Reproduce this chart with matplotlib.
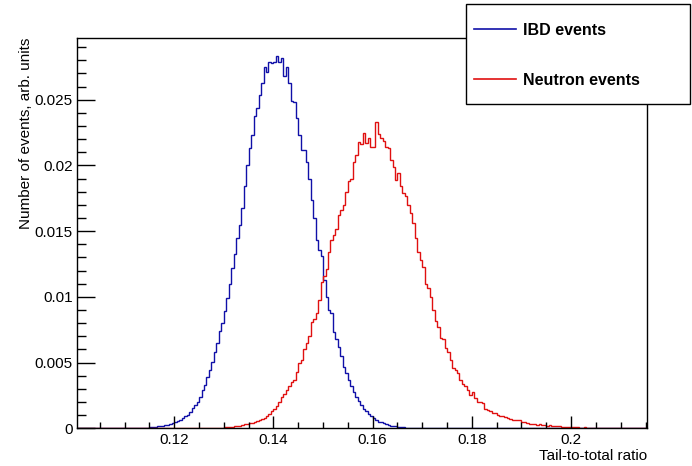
import numpy as np
import matplotlib
matplotlib.use("Agg")
import matplotlib.pyplot as plt
from matplotlib.patches import Rectangle

plt.rcParams['font.family'] = ['Liberation Sans', 'DejaVu Sans']

# histogram binning (tail-to-total ratio)
x_lo = 0.1
bin_w = 0.0005
n_bins = 231

# IBD events, first bin starts at 0.113
ibd_start = 0.113
ibd_vals = [0.00003, 0.00005, 0.00004, 0.00006, 0.00008, 0.00009, 0.00012, 0.00014, 0.00016, 0.00020,
            0.00024, 0.00027, 0.00031, 0.00038, 0.00046, 0.00054, 0.00063, 0.00075, 0.00090, 0.00102,
            0.00125, 0.00152, 0.00175, 0.00202, 0.00240, 0.00291, 0.00330, 0.00393, 0.00440, 0.00507,
            0.0058, 0.0065, 0.0074, 0.0080, 0.0089, 0.0099, 0.0110, 0.0122, 0.0133, 0.0145,
            0.0155, 0.0168, 0.0184, 0.0200, 0.0213, 0.0223, 0.0238, 0.0244, 0.0254, 0.0263,
            0.0275, 0.0271, 0.0279, 0.0278, 0.0279, 0.0283, 0.0279, 0.0282, 0.0268, 0.0275,
            0.0263, 0.0249, 0.0248, 0.0236, 0.0223, 0.0212, 0.0212, 0.0203, 0.0190, 0.0174,
            0.0160, 0.0143, 0.0136, 0.0131, 0.0113, 0.0100, 0.0090, 0.0088, 0.0073, 0.0068,
            0.0062, 0.0055, 0.0047, 0.0042, 0.0037, 0.0032, 0.0028, 0.0024, 0.0021, 0.0018,
            0.0015, 0.0013, 0.0011, 0.0009, 0.0008, 0.0006, 0.0005, 0.00045, 0.0004, 0.0003,
            0.00025, 0.0002, 0.00017, 0.00014, 0.0001, 0.0001, 0.00008, 0.00006, 0.00005, 0.00004,
            0.00004, 0.00003, 0.00002, 0.00002]

# Neutron events, first bin starts at 0.1245
neutron_start = 0.1245
neutron_vals = [0.00002, 0.00001, 0.00002, 0.00003, 0.00002, 0.00003, 0.00004, 0.00003, 0.00005, 0.00005,
                0.00006, 0.00008, 0.00009, 0.0001, 0.00012, 0.00015, 0.00018, 0.0002, 0.00025, 0.0003,
                0.00033, 0.00038, 0.00042, 0.00045, 0.00058, 0.00065, 0.00072, 0.00078, 0.0009, 0.0011,
                0.0013, 0.0015, 0.0017, 0.0020, 0.0024, 0.0026, 0.0029, 0.0032, 0.0035, 0.0037,
                0.0043, 0.0050, 0.0052, 0.0060, 0.0065, 0.0070, 0.0081, 0.0083, 0.0088, 0.0098,
                0.0111, 0.0116, 0.0121, 0.0134, 0.0143, 0.0147, 0.0152, 0.0162, 0.0166, 0.0170,
                0.0180, 0.0188, 0.0190, 0.0203, 0.0208, 0.0218, 0.0216, 0.0225, 0.0217, 0.0221,
                0.0214, 0.0214, 0.0233, 0.0224, 0.0221, 0.0219, 0.0214, 0.0213, 0.0204, 0.0199,
                0.0189, 0.0194, 0.0184, 0.0179, 0.0177, 0.0170, 0.0164, 0.0156, 0.0145, 0.0134,
                0.0128, 0.0123, 0.0110, 0.0107, 0.0100, 0.0090, 0.0082, 0.0077, 0.0069, 0.0068,
                0.0061, 0.0058, 0.0052, 0.0046, 0.0044, 0.0042, 0.0037, 0.0034, 0.0032, 0.0029,
                0.0025, 0.0028, 0.0023, 0.0020, 0.0020, 0.0019, 0.0015, 0.0014, 0.0013, 0.0012,
                0.0012, 0.0010, 0.00094, 0.00090, 0.00083, 0.00080, 0.00070, 0.00066, 0.00063, 0.00063,
                0.00060, 0.00050, 0.00045, 0.00038, 0.00036, 0.00032, 0.00030, 0.00028, 0.00032, 0.00026,
                0.00024, 0.00020, 0.00022, 0.00018, 0.00020, 0.00016, 0.00015, 0.00012, 0.00013, 0.00010,
                0.00011, 0.00008, 0.00007, 0.00009, 0.00006, 0.00005, 0.00007, 0.00004, 0.00006, 0.00005,
                0.00004, 0.00005, 0.00003, 0.00004, 0.00005, 0.00003, 0.00002, 0.00004, 0.00003, 0.00002,
                0.00003, 0.00004, 0.00002, 0.00003, 0.00002, 0.00001, 0.00003, 0.00002, 0.00002, 0.00001,
                0.00002, 0.00002]

labels = ["IBD events", "Neutron events"]
x_title = "Tail-to-total ratio"
y_title = "Number of events, arb. units"


def full_hist(start, vals):
    h = np.zeros(n_bins)
    i0 = int(round((start - x_lo) / bin_w))
    h[i0:i0 + len(vals)] = vals
    return h


edges = x_lo + bin_w * np.arange(n_bins + 1)
ibd = full_hist(ibd_start, ibd_vals)
neutron = full_hist(neutron_start, neutron_vals)

fig = plt.figure(figsize=(6.92, 4.66), dpi=100)
ax = fig.add_axes([77/692, 1 - 428.3/466, 570/692, 390.3/466])

l1 = ax.stairs(ibd, edges, color='#1010a8', linewidth=1.0, label=labels[0])
l2 = ax.stairs(neutron, edges, color='#e01010', linewidth=1.0, label=labels[1])

ax.set_xlim(0.1004, 0.2153)
ax.set_ylim(0, 0.0297)

ax.xaxis.set_major_locator(plt.MultipleLocator(0.02))
ax.xaxis.set_minor_locator(plt.MultipleLocator(0.005))
ax.yaxis.set_major_locator(plt.MultipleLocator(0.005))
ax.yaxis.set_minor_locator(plt.MultipleLocator(0.001))
ax.xaxis.set_major_formatter(plt.FormatStrFormatter('%g'))
ax.yaxis.set_major_formatter(plt.FormatStrFormatter('%g'))

ax.tick_params(axis='both', which='both', direction='in', width=1.0, labelsize=11, colors='black')
ax.tick_params(axis='x', which='major', length=8.6, pad=3.5)
ax.tick_params(axis='x', which='minor', length=4.3)
ax.tick_params(axis='y', which='major', length=12.7, pad=3)
ax.tick_params(axis='y', which='minor', length=6.7)

for s in ax.spines.values():
    s.set_linewidth(1.0)
    s.set_color('black')

fig.text(26/692, 1 - 38/466, y_title, rotation=90, ha='center', va='top', fontsize=11)
fig.text(647/692, 1 - 456/466, x_title, ha='right', va='center', fontsize=11)

# legend box (ROOT TLegend style, sits over the frame)
fig.add_artist(Rectangle((466/692, 1 - 104/466), 224/692, 100/466, transform=fig.transFigure,
                         facecolor='white', edgecolor='black', linewidth=1.0, zorder=4))

leg = fig.legend(handles=[l1, l2], labels=labels, loc='center left',
                 bbox_to_anchor=(474/692, 1 - 55.5/466),
                 prop={'weight': 'bold', 'size': 11.5},
                 handlelength=2.6, handletextpad=0.45,
                 labelspacing=2.2, borderpad=0, borderaxespad=0,
                 frameon=False)
leg.set_zorder(5)
for h in leg.legend_handles:
    h.set_linewidth(1.2)

fig.savefig('out.png', dpi=100, facecolor='white')
